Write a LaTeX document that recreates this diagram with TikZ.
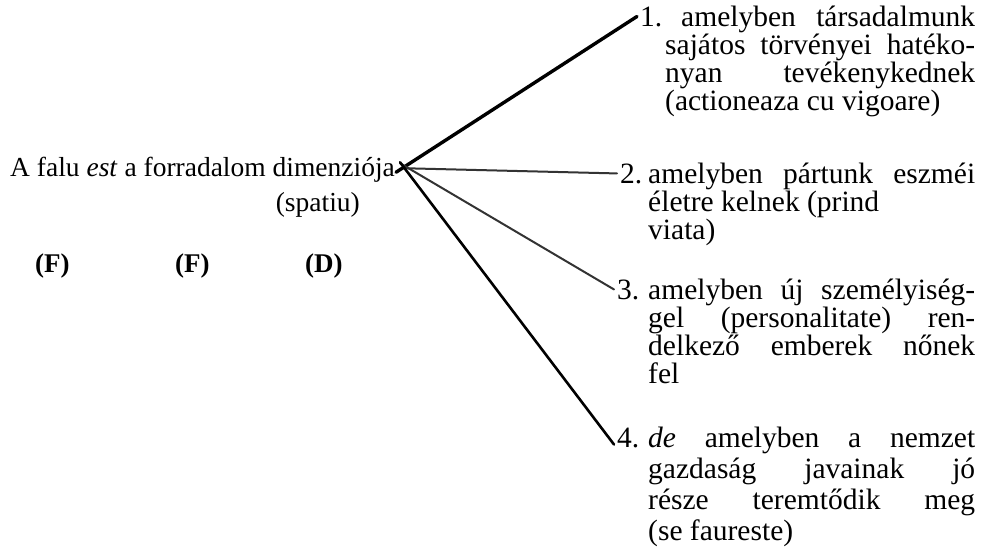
\documentclass[tikz,border=0pt]{standalone}
\usepackage{fontspec}
\setmainfont{Liberation Serif}
\begin{document}
\begin{tikzpicture}[x=1pt,y=-1pt,
  txt/.style={font=\fontsize{27.5}{28}\selectfont, inner sep=0pt, anchor=base west},
  rtxt/.style={font=\fontsize{29.5}{28}\selectfont, inner sep=0pt, anchor=base west},
  rtxtb/.style={font=\fontsize{29.5}{31}\selectfont, inner sep=0pt, anchor=base west},
  lbl/.style={font=\bfseries\fontsize{27}{28}\selectfont, inner sep=0pt, anchor=base west},
  strong/.style={line cap=round, line width=3.4pt, black},
  medium/.style={line cap=round, line width=2.6pt, black},
  faint/.style={line cap=round, line width=2pt, black!80}]
\useasboundingbox (0,0) rectangle (985,557);
% left side
\node[txt] (main) at (10,176) {A falu \textit{est} a forradalom dimenziója};
\node[txt, anchor=base east] (sp) at (360,211) {(spatiu)};
\node[lbl] (f1) at (35,272) {(F)};
\node[lbl] (f2) at (175,272) {(F)};
\node[lbl] (d1) at (305,272) {(D)};
% right side items
\node[rtxt] (n1) at (640,26) {1.};
\node[rtxt] (b1) at (665,26) {\parbox[t]{310pt}{%
  \makebox[310pt][s]{\hspace*{16pt}amelyben társadalmunk}\\
  \makebox[310pt][s]{sajátos törvényei hatéko-}\\
  \makebox[310pt][s]{nyan tevékenykednek}\\
  (actioneaza cu vigoare)}};
\node[rtxt] (n2) at (620,183) {2.};
\node[rtxt] (b2) at (648,183) {\parbox[t]{327pt}{%
  \makebox[327pt][s]{amelyben pártunk eszméi}\\
  életre kelnek (prind\\
  viata)}};
\node[rtxt] (n3) at (617,299) {3.};
\node[rtxt] (b3) at (648,299) {\parbox[t]{327pt}{%
  \makebox[327pt][s]{amelyben új személyiség-}\\
  \makebox[327pt][s]{gel (personalitate) ren-}\\
  \makebox[327pt][s]{delkező emberek nőnek}\\
  fel}};
\node[rtxtb] (n4) at (617,447) {4.};
\node[rtxtb] (b4) at (648,447) {\parbox[t]{327pt}{%
  \makebox[327pt][s]{\textit{de} amelyben a nemzet}\\
  \makebox[327pt][s]{gazdaság javainak jó}\\
  \makebox[327pt][s]{része teremtődik meg}\\
  (se faureste)}};
% connectors
\draw[strong] ([xshift=1pt,yshift=-3pt]main.east) -- ([xshift=-3pt]n1.west);
\draw[faint] ([xshift=10pt,yshift=1pt]main.east) -- ([xshift=-3pt]n2.west);
\draw[faint] ([xshift=5pt,yshift=6pt]main.east) -- ([xshift=-3pt]n3.west);
\draw[medium] ([xshift=5pt,yshift=7pt]main.east) -- ([xshift=-3pt,yshift=-7pt]n4.west);
\end{tikzpicture}
\end{document}
